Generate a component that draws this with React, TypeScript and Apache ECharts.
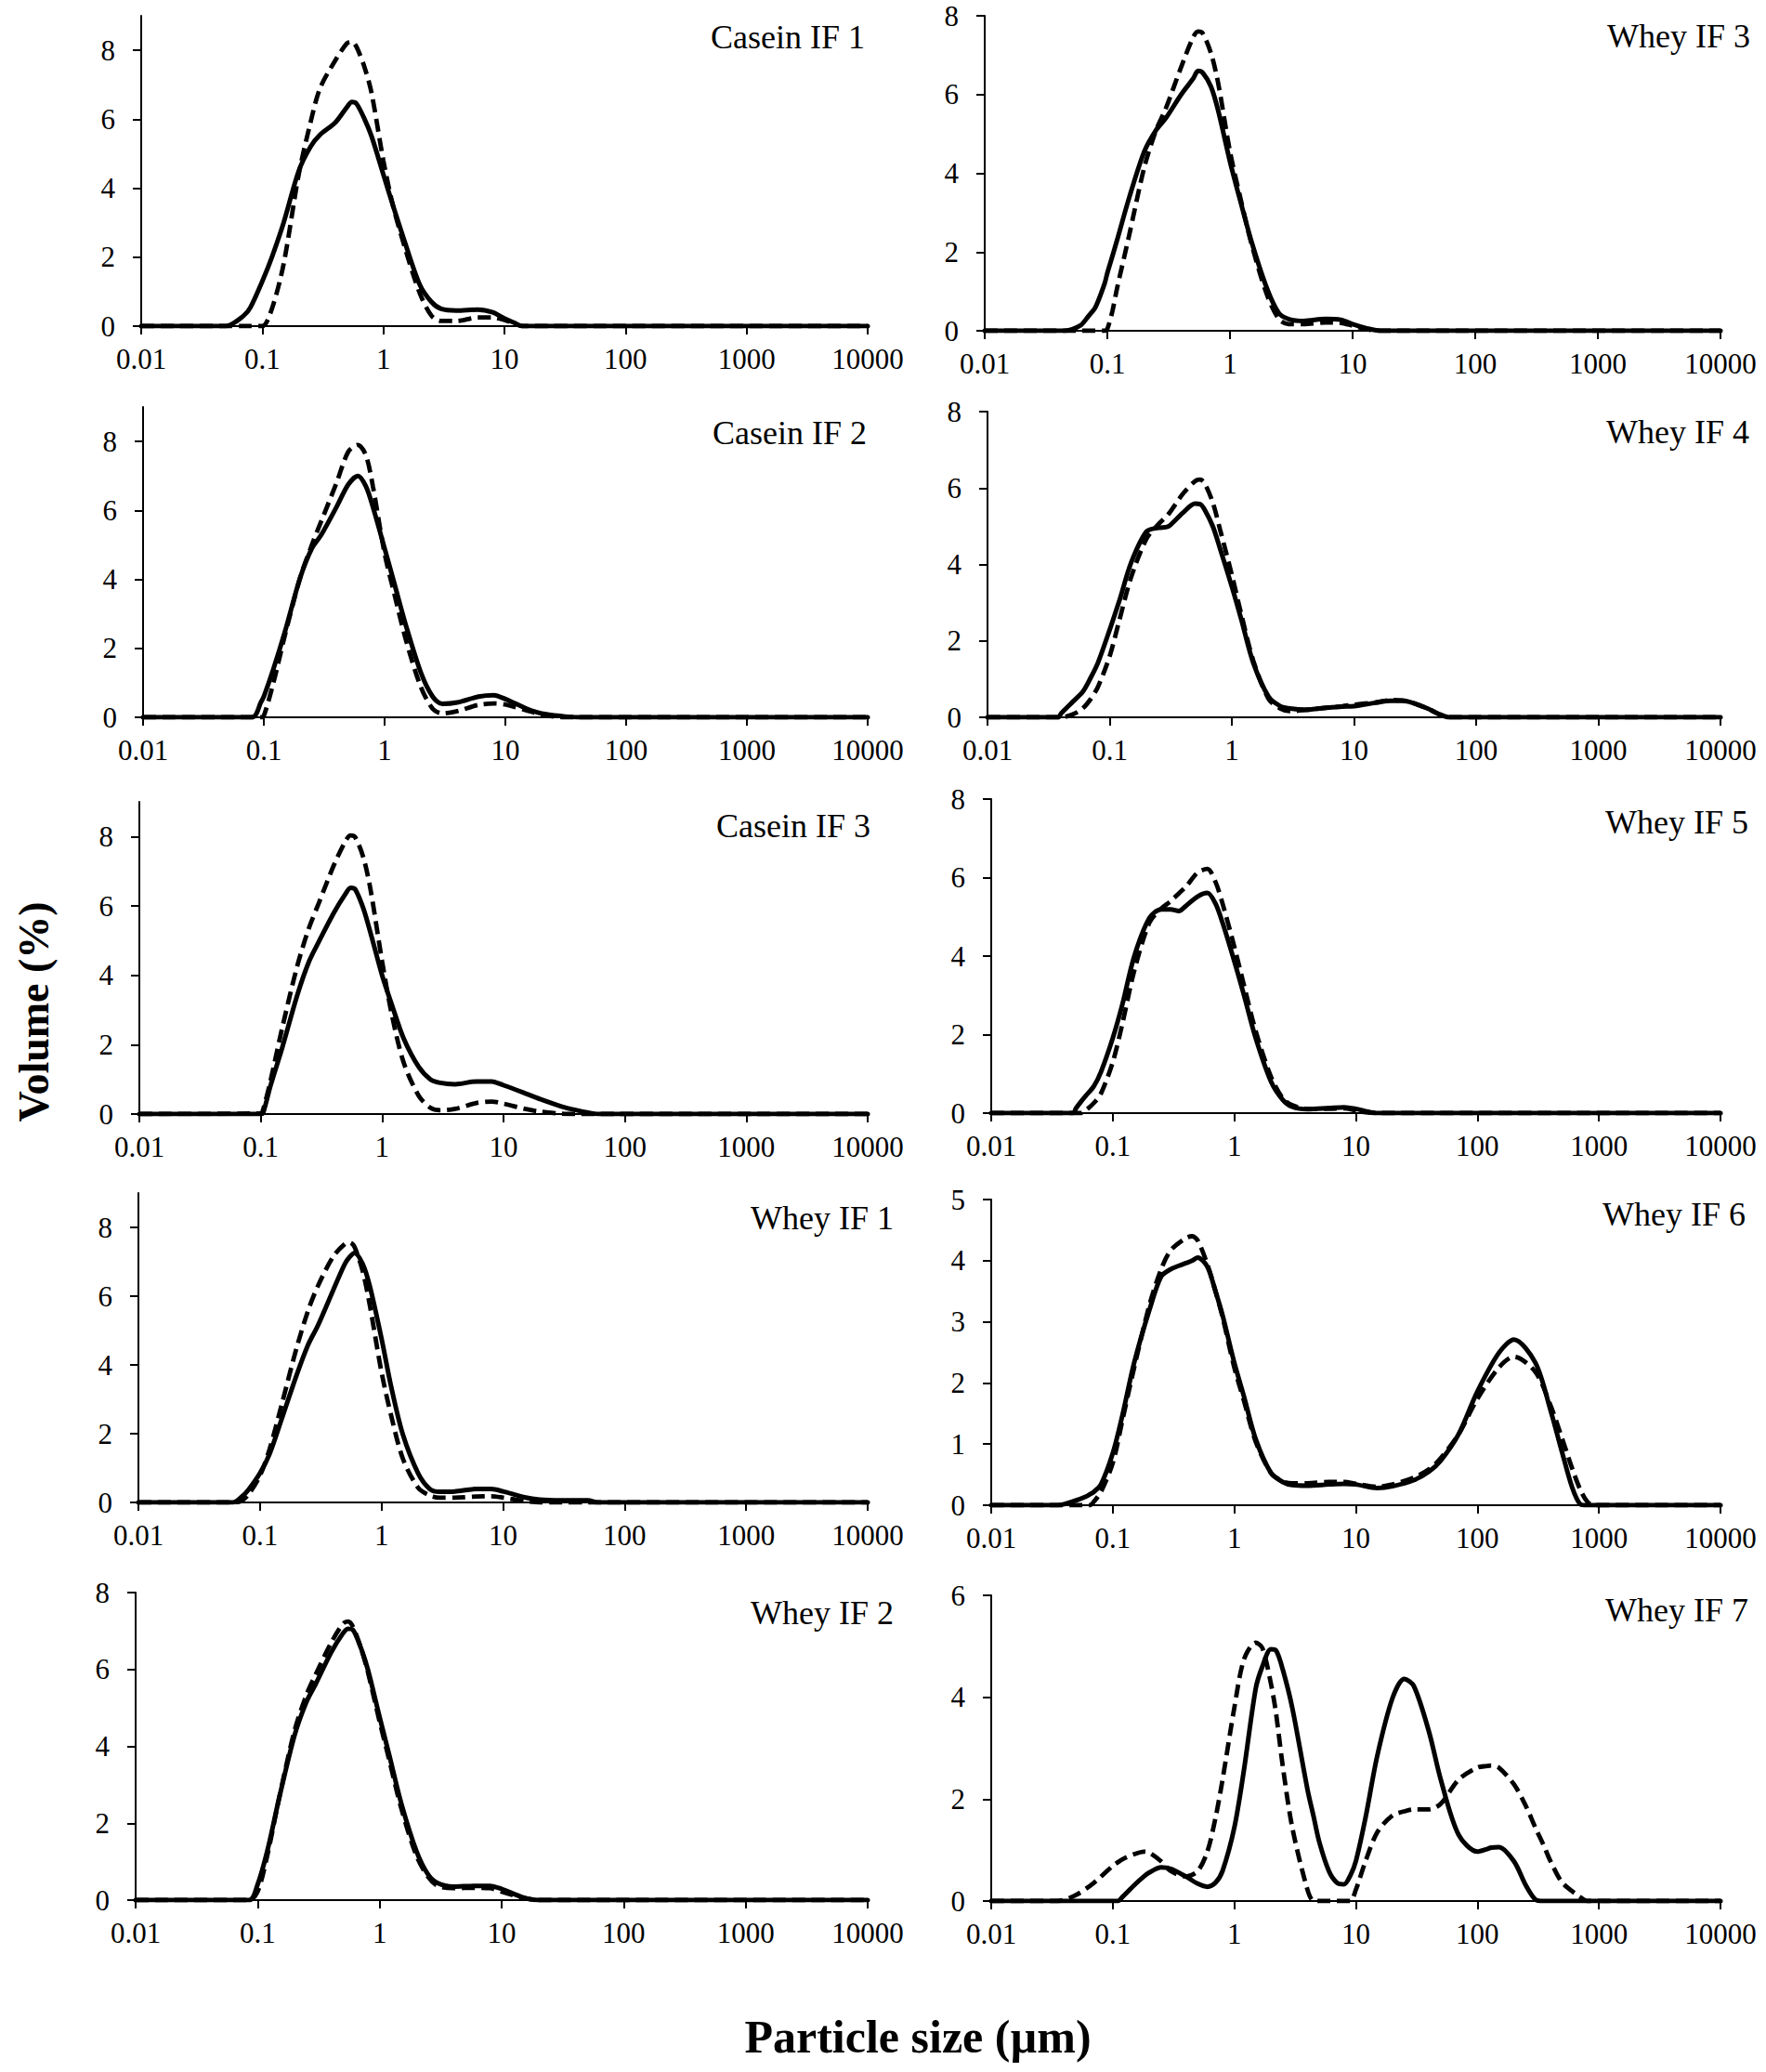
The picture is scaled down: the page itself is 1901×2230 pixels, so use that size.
import React, { useEffect, useRef } from 'react';
import * as echarts from 'echarts';

const FONT = "'Liberation Serif', 'Times New Roman', Times, serif";

// ---------- axis values ----------
const X_TICKS = [0.01, 0.1, 1, 10, 100, 1000, 10000];
const Y_TICKS_EVEN8 = [0, 2, 4, 6, 8];
const Y_TICKS_W6 = [0, 1, 2, 3, 4, 5];
const Y_TICKS_W7 = [0, 2, 4, 6];

// ---------- Casein IF 1 ----------
const C1_SIZES = [0.01, 0.05, 0.07, 0.08, 0.1, 0.12, 0.15, 0.2, 0.25, 0.3, 0.4, 0.5, 0.55, 0.6, 0.7, 0.8, 1, 1.2, 1.5, 2, 2.5, 3, 4, 6, 8, 10, 12, 14, 10000];
const C1_SOLID = [0, 0, 0.3, 0.55, 1.3, 2.0, 3.0, 4.5, 5.2, 5.55, 5.9, 6.35, 6.5, 6.45, 6.0, 5.5, 4.4, 3.5, 2.45, 1.2, 0.7, 0.5, 0.45, 0.48, 0.4, 0.22, 0.1, 0, 0];
const C1_DASHED = [0, 0, 0, 0, 0, 0.5, 1.8, 4.4, 5.9, 6.9, 7.7, 8.2, 8.25, 8.1, 7.5, 6.75, 4.8, 3.5, 2.3, 0.95, 0.3, 0.15, 0.15, 0.25, 0.25, 0.18, 0.08, 0, 0];

// ---------- Casein IF 2 ----------
const C2_SIZES = [0.01, 0.08, 0.095, 0.1, 0.12, 0.15, 0.2, 0.25, 0.3, 0.4, 0.5, 0.6, 0.7, 0.8, 1, 1.2, 1.5, 2, 2.5, 3, 4, 6, 8, 10, 15, 20, 30, 40, 10000];
const C2_SOLID = [0, 0, 0.45, 0.6, 1.4, 2.5, 4.05, 4.9, 5.3, 6.1, 6.75, 7.0, 6.7, 6.1, 4.9, 3.9, 2.67, 1.29, 0.6, 0.39, 0.43, 0.6, 0.64, 0.53, 0.25, 0.11, 0.03, 0, 0];
const C2_DASHED = [0, 0, 0, 0.04, 1.0, 2.4, 4.05, 5.0, 5.7, 6.8, 7.7, 7.9, 7.6, 6.7, 4.75, 3.6, 2.25, 0.87, 0.25, 0.11, 0.18, 0.36, 0.4, 0.37, 0.2, 0.08, 0, 0, 0];

// ---------- Casein IF 3 ----------
const C3_SIZES = [0.01, 0.1, 0.105, 0.12, 0.15, 0.2, 0.25, 0.3, 0.4, 0.5, 0.55, 0.6, 0.7, 0.8, 1, 1.2, 1.5, 2, 2.5, 3, 4, 6, 8, 10, 15, 20, 30, 40, 50, 60, 10000];
const C3_SOLID = [0, 0, 0.05, 0.8, 1.9, 3.43, 4.4, 4.96, 5.8, 6.35, 6.52, 6.48, 5.93, 5.24, 4.0, 3.16, 2.19, 1.36, 1.0, 0.9, 0.86, 0.94, 0.94, 0.83, 0.6, 0.43, 0.22, 0.11, 0.04, 0, 0];
const C3_DASHED = [0, 0.02, 0.15, 0.94, 2.47, 4.27, 5.37, 6.07, 7.17, 7.87, 8.03, 7.98, 7.4, 6.5, 4.4, 2.88, 1.5, 0.53, 0.18, 0.11, 0.15, 0.32, 0.36, 0.3, 0.15, 0.07, 0.01, 0, 0, 0, 0];

// ---------- Whey IF 1 ----------
const W1_SIZES = [0.01, 0.06, 0.07, 0.08, 0.1, 0.12, 0.15, 0.2, 0.25, 0.3, 0.4, 0.5, 0.55, 0.6, 0.7, 0.8, 1, 1.2, 1.5, 2, 2.5, 3, 4, 6, 8, 10, 15, 20, 30, 50, 60, 10000];
const W1_SOLID = [0, 0, 0.15, 0.36, 0.85, 1.41, 2.4, 3.7, 4.6, 5.15, 6.17, 6.94, 7.15, 7.26, 6.94, 6.3, 4.77, 3.37, 1.97, 0.85, 0.39, 0.31, 0.32, 0.39, 0.39, 0.32, 0.15, 0.08, 0.06, 0.06, 0, 0];
const W1_DASHED = [0, 0, 0.04, 0.22, 0.78, 1.55, 2.81, 4.49, 5.6, 6.3, 7.15, 7.52, 7.56, 7.43, 6.73, 5.75, 3.79, 2.53, 1.27, 0.43, 0.2, 0.14, 0.14, 0.17, 0.18, 0.14, 0.04, 0, 0, 0, 0, 0];

// ---------- Whey IF 2 ----------
const W2_SIZES = [0.01, 0.085, 0.1, 0.12, 0.15, 0.2, 0.25, 0.3, 0.4, 0.5, 0.55, 0.6, 0.7, 0.8, 1, 1.2, 1.5, 2, 2.5, 3, 4, 6, 8, 10, 15, 20, 10000];
const W2_SOLID = [0, 0, 0.41, 1.28, 2.65, 4.27, 5.14, 5.63, 6.44, 6.94, 7.06, 7.04, 6.57, 6.0, 4.76, 3.77, 2.53, 1.28, 0.66, 0.44, 0.35, 0.37, 0.37, 0.29, 0.07, 0, 0];
const W2_DASHED = [0, 0, 0.22, 1.16, 2.65, 4.39, 5.32, 5.88, 6.69, 7.19, 7.25, 7.13, 6.57, 5.94, 4.64, 3.64, 2.4, 1.16, 0.6, 0.37, 0.31, 0.32, 0.31, 0.22, 0.06, 0, 0];

// ---------- Whey IF 3 ----------
const W3_SIZES = [0.01, 0.045, 0.06, 0.07, 0.08, 0.095, 0.1, 0.11, 0.12, 0.15, 0.2, 0.25, 0.3, 0.4, 0.5, 0.55, 0.6, 0.7, 0.8, 1, 1.2, 1.5, 2, 2.5, 3, 4, 6, 8, 10, 14, 17, 10000];
const W3_SOLID = [0, 0, 0.13, 0.37, 0.6, 1.2, 1.47, 1.9, 2.3, 3.36, 4.55, 5.1, 5.4, 6.0, 6.4, 6.6, 6.55, 6.2, 5.6, 4.3, 3.36, 2.26, 1.08, 0.45, 0.3, 0.25, 0.3, 0.28, 0.17, 0.04, 0, 0];
const W3_DASHED = [0, 0, 0, 0, 0, 0, 0.05, 0.5, 1.08, 2.4, 4.15, 5.1, 5.65, 6.7, 7.45, 7.6, 7.55, 7.05, 6.3, 4.55, 3.45, 2.2, 0.92, 0.3, 0.17, 0.17, 0.21, 0.2, 0.13, 0.02, 0, 0];

// ---------- Whey IF 4 ----------
const W4_SIZES = [0.01, 0.038, 0.04, 0.05, 0.06, 0.07, 0.08, 0.1, 0.12, 0.15, 0.2, 0.25, 0.3, 0.35, 0.4, 0.5, 0.55, 0.6, 0.7, 0.8, 1, 1.2, 1.5, 2, 2.5, 3, 4, 6, 8, 10, 15, 20, 25, 30, 40, 50, 60, 10000];
const W4_SOLID = [0, 0, 0.1, 0.41, 0.66, 1.04, 1.42, 2.29, 3.05, 4.05, 4.86, 4.96, 4.99, 5.18, 5.36, 5.59, 5.58, 5.43, 4.99, 4.42, 3.42, 2.54, 1.42, 0.54, 0.29, 0.23, 0.2, 0.25, 0.28, 0.29, 0.38, 0.43, 0.43, 0.38, 0.23, 0.08, 0, 0];
const W4_DASHED = [0, 0, 0, 0.08, 0.23, 0.48, 0.79, 1.6, 2.54, 3.67, 4.67, 5.05, 5.3, 5.6, 5.86, 6.18, 6.22, 6.12, 5.61, 4.92, 3.73, 2.67, 1.48, 0.48, 0.23, 0.16, 0.19, 0.25, 0.29, 0.33, 0.39, 0.45, 0.44, 0.38, 0.23, 0.08, 0, 0];

// ---------- Whey IF 5 ----------
const W5_SIZES = [0.01, 0.047, 0.05, 0.055, 0.06, 0.07, 0.08, 0.1, 0.12, 0.15, 0.2, 0.25, 0.3, 0.35, 0.4, 0.5, 0.6, 0.7, 0.8, 1, 1.2, 1.5, 2, 2.5, 3, 4, 6, 8, 10, 12, 15, 10000];
const W5_SOLID = [0, 0, 0.13, 0.3, 0.44, 0.69, 1.05, 1.91, 2.77, 3.99, 4.97, 5.19, 5.19, 5.15, 5.28, 5.52, 5.61, 5.34, 4.85, 3.87, 3.01, 1.91, 0.81, 0.34, 0.16, 0.1, 0.13, 0.15, 0.11, 0.05, 0, 0];
const W5_DASHED = [0, 0, 0, 0, 0.07, 0.26, 0.5, 1.3, 2.28, 3.62, 4.85, 5.21, 5.4, 5.6, 5.77, 6.13, 6.22, 5.89, 5.34, 4.24, 3.26, 2.09, 0.93, 0.38, 0.2, 0.11, 0.11, 0.12, 0.07, 0.02, 0, 0];

// ---------- Whey IF 6 ----------
const W6_SIZES = [0.01, 0.035, 0.05, 0.06, 0.065, 0.07, 0.08, 0.1, 0.12, 0.15, 0.2, 0.25, 0.3, 0.4, 0.45, 0.5, 0.6, 0.7, 0.8, 1, 1.2, 1.5, 2, 2.5, 3, 4, 6, 8, 10, 15, 20, 30, 40, 50, 70, 100, 150, 200, 300, 400, 500, 600, 700, 800, 900, 10000];
const W6_SOLID = [0, 0, 0.08, 0.14, 0.18, 0.22, 0.34, 0.85, 1.47, 2.33, 3.19, 3.74, 3.86, 3.96, 4.0, 4.05, 3.9, 3.5, 3.11, 2.33, 1.78, 1.08, 0.53, 0.38, 0.33, 0.32, 0.34, 0.35, 0.34, 0.28, 0.31, 0.41, 0.55, 0.73, 1.16, 1.86, 2.49, 2.71, 2.33, 1.55, 0.85, 0.3, 0.02, 0, 0, 0];
const W6_DASHED = [0, 0, 0, 0, 0, 0.06, 0.22, 0.69, 1.39, 2.25, 3.27, 3.86, 4.17, 4.37, 4.4, 4.33, 3.94, 3.5, 3.08, 2.25, 1.71, 1.04, 0.53, 0.39, 0.36, 0.36, 0.38, 0.38, 0.35, 0.3, 0.34, 0.45, 0.59, 0.77, 1.16, 1.74, 2.25, 2.43, 2.18, 1.63, 1.08, 0.61, 0.26, 0.06, 0, 0];

// ---------- Whey IF 7 ----------
const W7_SIZES = [0.01, 0.035, 0.05, 0.07, 0.1, 0.11, 0.12, 0.15, 0.18, 0.2, 0.25, 0.3, 0.4, 0.5, 0.6, 0.7, 0.8, 1, 1.2, 1.5, 1.7, 2, 2.2, 2.5, 3, 4, 4.5, 5, 6, 7, 8, 9, 10, 12, 15, 20, 25, 30, 40, 50, 70, 100, 120, 130, 150, 200, 250, 300, 350, 400, 500, 700, 800, 10000];
const W7_SOLID = [0, 0, 0, 0, 0, 0, 0.08, 0.31, 0.48, 0.56, 0.66, 0.63, 0.48, 0.34, 0.28, 0.36, 0.59, 1.44, 2.57, 4.17, 4.6, 4.94, 4.92, 4.55, 3.79, 2.19, 1.65, 1.16, 0.59, 0.36, 0.33, 0.5, 0.78, 1.63, 2.85, 3.98, 4.36, 4.22, 3.32, 2.38, 1.3, 0.97, 1.02, 1.05, 1.06, 0.78, 0.31, 0.03, 0, 0, 0, 0, 0, 0];
const W7_DASHED = [0, 0, 0.12, 0.36, 0.69, 0.76, 0.82, 0.92, 0.97, 0.95, 0.78, 0.59, 0.48, 0.59, 0.97, 1.63, 2.38, 3.79, 4.74, 5.07, 4.97, 4.27, 3.7, 2.66, 1.44, 0.22, 0, 0, 0, 0, 0, 0, 0.22, 0.78, 1.35, 1.68, 1.76, 1.8, 1.8, 1.91, 2.38, 2.62, 2.65, 2.66, 2.62, 2.29, 1.87, 1.44, 1.1, 0.78, 0.36, 0.08, 0, 0];

// ---------- panels (reading order: row by row, left then right) ----------
const PANELS = [
  { name: 'Casein IF 1', sizes: C1_SIZES, solid: C1_SOLID, dashed: C1_DASHED, yMax: 9, yStep: 2, yTicks: Y_TICKS_EVEN8 },
  { name: 'Whey IF 3', sizes: W3_SIZES, solid: W3_SOLID, dashed: W3_DASHED, yMax: 8, yStep: 2, yTicks: Y_TICKS_EVEN8 },
  { name: 'Casein IF 2', sizes: C2_SIZES, solid: C2_SOLID, dashed: C2_DASHED, yMax: 9, yStep: 2, yTicks: Y_TICKS_EVEN8 },
  { name: 'Whey IF 4', sizes: W4_SIZES, solid: W4_SOLID, dashed: W4_DASHED, yMax: 8, yStep: 2, yTicks: Y_TICKS_EVEN8 },
  { name: 'Casein IF 3', sizes: C3_SIZES, solid: C3_SOLID, dashed: C3_DASHED, yMax: 9, yStep: 2, yTicks: Y_TICKS_EVEN8 },
  { name: 'Whey IF 5', sizes: W5_SIZES, solid: W5_SOLID, dashed: W5_DASHED, yMax: 8, yStep: 2, yTicks: Y_TICKS_EVEN8 },
  { name: 'Whey IF 1', sizes: W1_SIZES, solid: W1_SOLID, dashed: W1_DASHED, yMax: 9, yStep: 2, yTicks: Y_TICKS_EVEN8 },
  { name: 'Whey IF 6', sizes: W6_SIZES, solid: W6_SOLID, dashed: W6_DASHED, yMax: 5, yStep: 1, yTicks: Y_TICKS_W6 },
  { name: 'Whey IF 2', sizes: W2_SIZES, solid: W2_SOLID, dashed: W2_DASHED, yMax: 8, yStep: 2, yTicks: Y_TICKS_EVEN8 },
  { name: 'Whey IF 7', sizes: W7_SIZES, solid: W7_SOLID, dashed: W7_DASHED, yMax: 6, yStep: 2, yTicks: Y_TICKS_W7 },
];

// ---------- layout (pixels) ----------
const LAYOUT = [
  { left: 152, right: 934, top: 17, bottom: 351, titleX: 931, titleY: 40 },
  { left: 1060, right: 1852, top: 17, bottom: 356, titleX: 1884, titleY: 39 },
  { left: 154, right: 934, top: 438, bottom: 772, titleX: 933, titleY: 466 },
  { left: 1063, right: 1852, top: 443, bottom: 772, titleX: 1883, titleY: 465 },
  { left: 150, right: 934, top: 863, bottom: 1199, titleX: 937, titleY: 889 },
  { left: 1067, right: 1852, top: 860, bottom: 1198, titleX: 1882, titleY: 885 },
  { left: 149, right: 934, top: 1284, bottom: 1617, titleX: 962, titleY: 1311 },
  { left: 1067, right: 1852, top: 1291, bottom: 1620, titleX: 1879, titleY: 1307 },
  { left: 146, right: 934, top: 1714, bottom: 2045, titleX: 962, titleY: 1736 },
  { left: 1067, right: 1852, top: 1717, bottom: 2046, titleX: 1882, titleY: 1733 },
];

const Y_TITLE = 'Volume (%)';
const X_TITLE = 'Particle size (µm)';

function fmtX(v: number): string {
  return String(Number(v.toPrecision(4)));
}

function buildOption(): any {
  const grid = LAYOUT.map((l) => ({
    left: l.left,
    top: l.top,
    width: l.right - l.left,
    height: l.bottom - l.top,
    containLabel: false,
  }));

  const axisLineStyle = { color: '#000', width: 2 };
  const labelStyle = { fontFamily: FONT, fontSize: 31, color: '#000' };

  const xAxis = PANELS.map((_, i) => ({
    type: 'log',
    logBase: 10,
    gridIndex: i,
    min: X_TICKS[0],
    max: X_TICKS[X_TICKS.length - 1],
    axisLine: { show: true, onZero: false, lineStyle: axisLineStyle },
    axisTick: { show: true, inside: false, length: 9, lineStyle: axisLineStyle },
    minorTick: { show: false },
    splitLine: { show: false },
    axisLabel: { ...labelStyle, margin: 20, formatter: fmtX, showMinLabel: true, showMaxLabel: true },
  }));

  const yAxis = PANELS.map((p, i) => ({
    type: 'value',
    gridIndex: i,
    min: 0,
    max: p.yMax,
    interval: p.yStep,
    axisLine: { show: true, lineStyle: axisLineStyle },
    axisTick: { show: true, inside: false, length: 9, lineStyle: axisLineStyle, customValues: p.yTicks },
    splitLine: { show: false },
    axisLabel: { ...labelStyle, margin: 28, customValues: p.yTicks },
  }));

  const series: any[] = [];
  PANELS.forEach((p, i) => {
    series.push({
      type: 'line',
      name: p.name + ' solid',
      xAxisIndex: i,
      yAxisIndex: i,
      data: p.sizes.map((s, k) => [s, p.solid[k]]),
      showSymbol: false,
      symbol: 'none',
      smooth: 0.3,
      silent: true,
      z: 4,
      lineStyle: { color: '#000', width: 5, type: 'solid', cap: 'round', join: 'round' },
    });
    series.push({
      type: 'line',
      name: p.name + ' dashed',
      xAxisIndex: i,
      yAxisIndex: i,
      data: p.sizes.map((s, k) => [s, p.dashed[k]]),
      showSymbol: false,
      symbol: 'none',
      smooth: 0.3,
      silent: true,
      z: 3,
      lineStyle: { color: '#000', width: 4.8, type: [14, 7], cap: 'butt' },
    });
  });

  const graphic: any[] = PANELS.map((p, i) => ({
    type: 'text',
    x: LAYOUT[i].titleX,
    y: LAYOUT[i].titleY,
    silent: true,
    style: {
      text: p.name,
      fill: '#000',
      fontFamily: FONT,
      fontSize: 36,
      align: 'right',
      verticalAlign: 'middle',
    },
  }));
  graphic.push({
    type: 'text',
    x: 36,
    y: 1089,
    rotation: Math.PI / 2,
    silent: true,
    style: {
      text: Y_TITLE,
      fill: '#000',
      fontFamily: FONT,
      fontSize: 46,
      fontWeight: 'bold',
      align: 'center',
      verticalAlign: 'middle',
    },
  });
  graphic.push({
    type: 'text',
    x: 988,
    y: 2192,
    silent: true,
    style: {
      text: X_TITLE,
      fill: '#000',
      fontFamily: FONT,
      fontSize: 50,
      fontWeight: 'bold',
      align: 'center',
      verticalAlign: 'middle',
    },
  });

  return {
    animation: false,
    backgroundColor: '#fff',
    grid,
    xAxis,
    yAxis,
    series,
    graphic,
  };
}

export default function App() {
  const ref = useRef<HTMLDivElement | null>(null);
  useEffect(() => {
    if (!ref.current) return;
    const chart = echarts.init(ref.current, null, { renderer: 'svg' });
    chart.setOption(buildOption());
    return () => {
      chart.dispose();
    };
  }, []);
  return (
    <div
      ref={ref}
      style={{ position: 'absolute', left: 0, top: 0, width: 1901, height: 2230, background: '#fff' }}
    />
  );
}
